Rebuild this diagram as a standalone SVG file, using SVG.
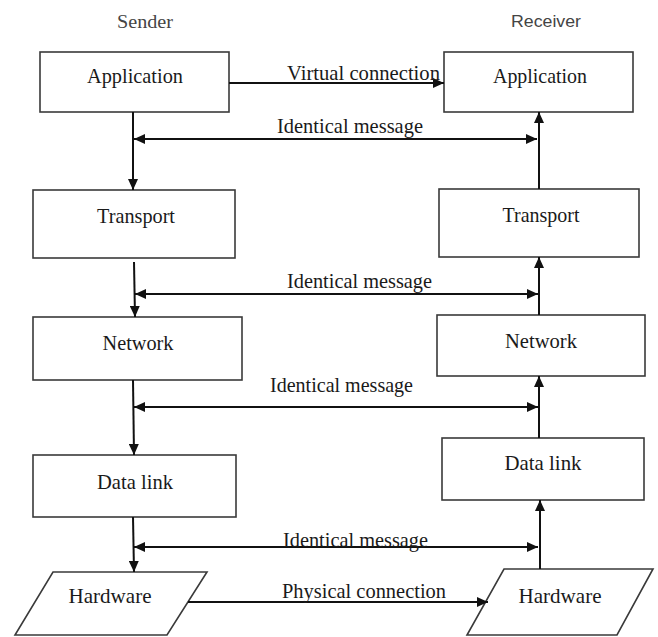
<svg xmlns="http://www.w3.org/2000/svg" width="658" height="637" viewBox="0 0 658 637">
  <style>
    .box { fill: #ffffff; stroke: #3a3a3a; stroke-width: 1.6; }
    .lbl { font-family: "Liberation Serif", "Times New Roman", serif; font-size: 22px; fill: #1a1a1a; }
    .side { font-family: "Liberation Sans", Arial, sans-serif; font-size: 17px; fill: #444444; }
    .sideSerif { font-family: "Liberation Serif", "Times New Roman", serif; font-size: 19px; fill: #444444; }
    .wire { stroke: #111111; stroke-width: 2; fill: none; }
  </style>
  <defs>
    <marker id="arrow" markerUnits="userSpaceOnUse" markerWidth="12" markerHeight="10" refX="11" refY="5" orient="auto-start-reverse">
      <path d="M0,0 L11,5 L0,10 z" fill="#111111"/>
    </marker>
  </defs>
  <rect width="658" height="637" fill="#ffffff"/>

  <!-- column headings -->
  <text class="sideSerif" x="145" y="28" text-anchor="middle" textLength="56" lengthAdjust="spacingAndGlyphs">Sender</text>
  <text class="side" x="546" y="27" text-anchor="middle" textLength="70" lengthAdjust="spacingAndGlyphs">Receiver</text>

  <!-- sender stack -->
  <g id="sender-application">
    <rect class="box" x="40" y="52" width="189" height="60"/>
    <text class="lbl" x="135" y="83" text-anchor="middle" textLength="96" lengthAdjust="spacingAndGlyphs">Application</text>
  </g>
  <g id="sender-transport">
    <rect class="box" x="33" y="190" width="202" height="68"/>
    <text class="lbl" x="136" y="223" text-anchor="middle" textLength="78" lengthAdjust="spacingAndGlyphs">Transport</text>
  </g>
  <g id="sender-network">
    <rect class="box" x="33" y="317" width="209" height="63"/>
    <text class="lbl" x="138" y="350" text-anchor="middle" textLength="71" lengthAdjust="spacingAndGlyphs">Network</text>
  </g>
  <g id="sender-datalink">
    <rect class="box" x="33" y="455" width="203" height="62"/>
    <text class="lbl" x="135" y="489" text-anchor="middle" textLength="76" lengthAdjust="spacingAndGlyphs">Data link</text>
  </g>
  <g id="sender-hardware">
    <polygon class="box" points="53,572 207,572 167,635 15,635"/>
    <text class="lbl" x="110" y="603" text-anchor="middle" textLength="83" lengthAdjust="spacingAndGlyphs">Hardware</text>
  </g>

  <!-- receiver stack -->
  <g id="receiver-application">
    <rect class="box" x="444" y="52" width="189" height="60"/>
    <text class="lbl" x="540" y="83" text-anchor="middle" textLength="94" lengthAdjust="spacingAndGlyphs">Application</text>
  </g>
  <g id="receiver-transport">
    <rect class="box" x="439" y="189" width="200" height="68"/>
    <text class="lbl" x="541" y="222" text-anchor="middle" textLength="77" lengthAdjust="spacingAndGlyphs">Transport</text>
  </g>
  <g id="receiver-network">
    <rect class="box" x="437" y="315" width="208" height="61"/>
    <text class="lbl" x="541" y="348" text-anchor="middle" textLength="72" lengthAdjust="spacingAndGlyphs">Network</text>
  </g>
  <g id="receiver-datalink">
    <rect class="box" x="442" y="438" width="202" height="62"/>
    <text class="lbl" x="543" y="470" text-anchor="middle" textLength="77" lengthAdjust="spacingAndGlyphs">Data link</text>
  </g>
  <g id="receiver-hardware">
    <polygon class="box" points="504,569 653,569 617,635 467,635"/>
    <text class="lbl" x="560" y="603" text-anchor="middle" textLength="83" lengthAdjust="spacingAndGlyphs">Hardware</text>
  </g>

  <!-- connectors -->
  <g id="connectors">
    <!-- down the sender stack -->
    <line class="wire" x1="133" y1="112" x2="133" y2="190" marker-end="url(#arrow)"/>
    <line class="wire" x1="134" y1="262" x2="135" y2="317" marker-end="url(#arrow)"/>
    <line class="wire" x1="133" y1="380" x2="134" y2="455" marker-end="url(#arrow)"/>
    <line class="wire" x1="133" y1="517" x2="134" y2="572" marker-end="url(#arrow)"/>

    <!-- up the receiver stack -->
    <line class="wire" x1="540" y1="569" x2="540" y2="500" marker-end="url(#arrow)"/>
    <line class="wire" x1="539" y1="438" x2="539" y2="376" marker-end="url(#arrow)"/>
    <line class="wire" x1="539" y1="315" x2="539" y2="257" marker-end="url(#arrow)"/>
    <line class="wire" x1="539" y1="189" x2="539" y2="112" marker-end="url(#arrow)"/>

    <!-- peer links -->
    <line class="wire" x1="229" y1="83" x2="444" y2="83" marker-end="url(#arrow)"/>
    <line class="wire" x1="134" y1="139" x2="537" y2="139" marker-start="url(#arrow)" marker-end="url(#arrow)"/>
    <line class="wire" x1="135" y1="294" x2="538" y2="294" marker-start="url(#arrow)" marker-end="url(#arrow)"/>
    <line class="wire" x1="134" y1="407" x2="538" y2="407" marker-start="url(#arrow)" marker-end="url(#arrow)"/>
    <line class="wire" x1="134" y1="547" x2="538" y2="547" marker-start="url(#arrow)" marker-end="url(#arrow)"/>
    <line class="wire" x1="188" y1="602" x2="488" y2="602" marker-end="url(#arrow)"/>

    <!-- link labels -->
    <text class="lbl" x="287" y="80" textLength="153" lengthAdjust="spacingAndGlyphs">Virtual connection</text>
    <text class="lbl" x="277" y="133" textLength="146" lengthAdjust="spacingAndGlyphs">Identical message</text>
    <text class="lbl" x="287" y="288" textLength="145" lengthAdjust="spacingAndGlyphs">Identical message</text>
    <text class="lbl" x="270" y="392" textLength="143" lengthAdjust="spacingAndGlyphs">Identical message</text>
    <text class="lbl" x="283" y="547" textLength="145" lengthAdjust="spacingAndGlyphs">Identical message</text>
    <text class="lbl" x="282" y="598" textLength="164" lengthAdjust="spacingAndGlyphs">Physical connection</text>
  </g>
</svg>
